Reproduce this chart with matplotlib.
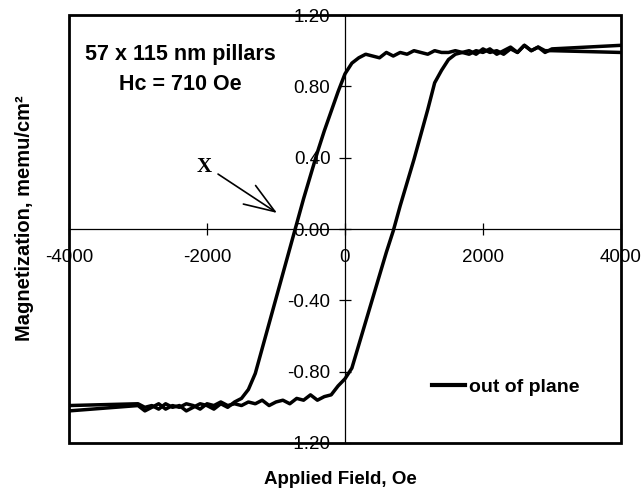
import matplotlib
matplotlib.use("Agg")
import matplotlib.pyplot as plt
from matplotlib.patches import Rectangle

plt.rcParams["font.family"] = ["Liberation Sans", "DejaVu Sans"]

# ---- hysteresis loop data (field in Oe, magnetization in memu/cm^2) ----
field_down = [4000,
              3000, 2900, 2800, 2700, 2600, 2500, 2400, 2300, 2200, 2100,
              2000, 1900, 1800, 1700, 1600, 1500, 1400, 1300, 1200, 1100,
              1000, 900, 800, 700, 600, 500, 400, 300, 200, 100,
              0, -100, -200, -300, -400, -500, -600, -700, -800, -900,
              -1000, -1100, -1200, -1300, -1400, -1500, -1600, -1700, -1800, -1900,
              -2000, -2100, -2200, -2300, -2400, -2500, -2600, -2700, -2800, -2900,
              -3000, -4000]
moment_down = [1.03,
               1.01, 0.99, 1.02, 1.00, 1.03, 0.99, 1.01, 0.98, 1.00, 0.99,
               1.01, 0.98, 1.00, 0.99, 1.00, 0.99, 0.99, 1.00, 0.98, 0.99,
               1.00, 0.98, 0.99, 0.97, 0.99, 0.96, 0.97, 0.98, 0.96, 0.93,
               0.87, 0.77, 0.66, 0.55, 0.43, 0.30, 0.17, 0.03, -0.11, -0.25,
               -0.39, -0.53, -0.67, -0.81, -0.90, -0.95, -0.97, -1.00, -0.98, -1.01,
               -0.99, -0.98, -1.00, -1.02, -0.99, -1.00, -0.98, -1.01, -0.99, -1.00,
               -0.98, -0.99]

field_up = field_down[::-1]
moment_up = [-1.02,
             -0.99, -1.02, -1.00, -0.98, -1.01, -0.99, -1.00, -0.98, -0.99, -1.01,
             -0.98, -0.99, -0.97, -0.99, -0.98, -0.99, -0.97, -0.98, -0.96, -0.99,
             -0.97, -0.96, -0.98, -0.95, -0.96, -0.93, -0.96, -0.94, -0.93, -0.88,
             -0.84, -0.78, -0.65, -0.52, -0.39, -0.26, -0.13, -0.01, 0.13, 0.26,
             0.39, 0.53, 0.67, 0.82, 0.89, 0.95, 0.98, 0.99, 0.98, 1.00,
             0.99, 1.01, 0.98, 1.00, 1.02, 0.99, 1.03, 1.00, 1.02, 1.00,
             1.00, 0.99]

x_ticks = [-4000, -2000, 0, 2000, 4000]
y_ticks = [-1.20, -0.80, -0.40, 0.00, 0.40, 0.80, 1.20]

fig = plt.figure(figsize=(6.42, 4.92), dpi=100)
ax = fig.add_axes([0.1075, 0.0996, 0.8597, 0.8699])

ax.plot(field_down, moment_down, color="black", lw=2.5, label="out of plane")
ax.plot(field_up, moment_up, color="black", lw=2.5)

ax.set_xlim(-4000, 4000)
ax.set_ylim(-1.2, 1.2)

# axes cross through the origin, outer box drawn separately
for side in ["left", "bottom"]:
    ax.spines[side].set_position("zero")
    ax.spines[side].set_linewidth(0.9)
for side in ["top", "right"]:
    ax.spines[side].set_visible(False)
ax.add_patch(Rectangle((0, 0), 1, 1, transform=ax.transAxes, fill=False,
                       lw=2.0, ec="black", clip_on=False, zorder=5))

ax.set_xticks(x_ticks)
ax.set_xticklabels([str(v) for v in x_ticks])
ax.set_yticks(y_ticks)
ax.set_yticklabels(["%.2f" % v for v in y_ticks])
ax.tick_params(axis="both", direction="inout", length=9, width=0.9,
               labelsize=13.5)
ax.tick_params(axis="x", pad=10)
ax.tick_params(axis="y", pad=6)

fig.text(340 / 642, 1 - 479 / 492, "Applied Field, Oe", ha="center",
         va="center", fontsize=13.5, fontweight="bold")
fig.text(25 / 642, 1 - 218 / 492, "Magnetization, memu/cm²", ha="center",
         va="center", rotation=90, fontsize=14.5, fontweight="bold")

ax.text(-2391, 0.98, "57 x 115 nm pillars", ha="center", va="center",
        fontsize=15.5, fontweight="bold")
ax.text(-2391, 0.81, "Hc = 710 Oe", ha="center", va="center",
        fontsize=15.5, fontweight="bold")

ax.text(-2043, 0.35, "X", ha="center", va="center", fontsize=15,
        fontweight="bold", family="Liberation Serif")
ax.annotate("", xy=(-985, 0.09), xytext=(-1840, 0.308),
            arrowprops=dict(arrowstyle="->,head_length=1.1,head_width=0.4",
                            lw=1.2, color="black", mutation_scale=20,
                            shrinkA=0, shrinkB=0))

leg = ax.legend(loc="center left", bbox_to_anchor=(0.658, 0.131),
                frameon=False, borderpad=0, borderaxespad=0,
                handlelength=1.7, handletextpad=0.2,
                prop={"size": 14, "weight": "bold"})
for line in leg.get_lines():
    line.set_linewidth(3)

fig.savefig("out.png", dpi=100)
